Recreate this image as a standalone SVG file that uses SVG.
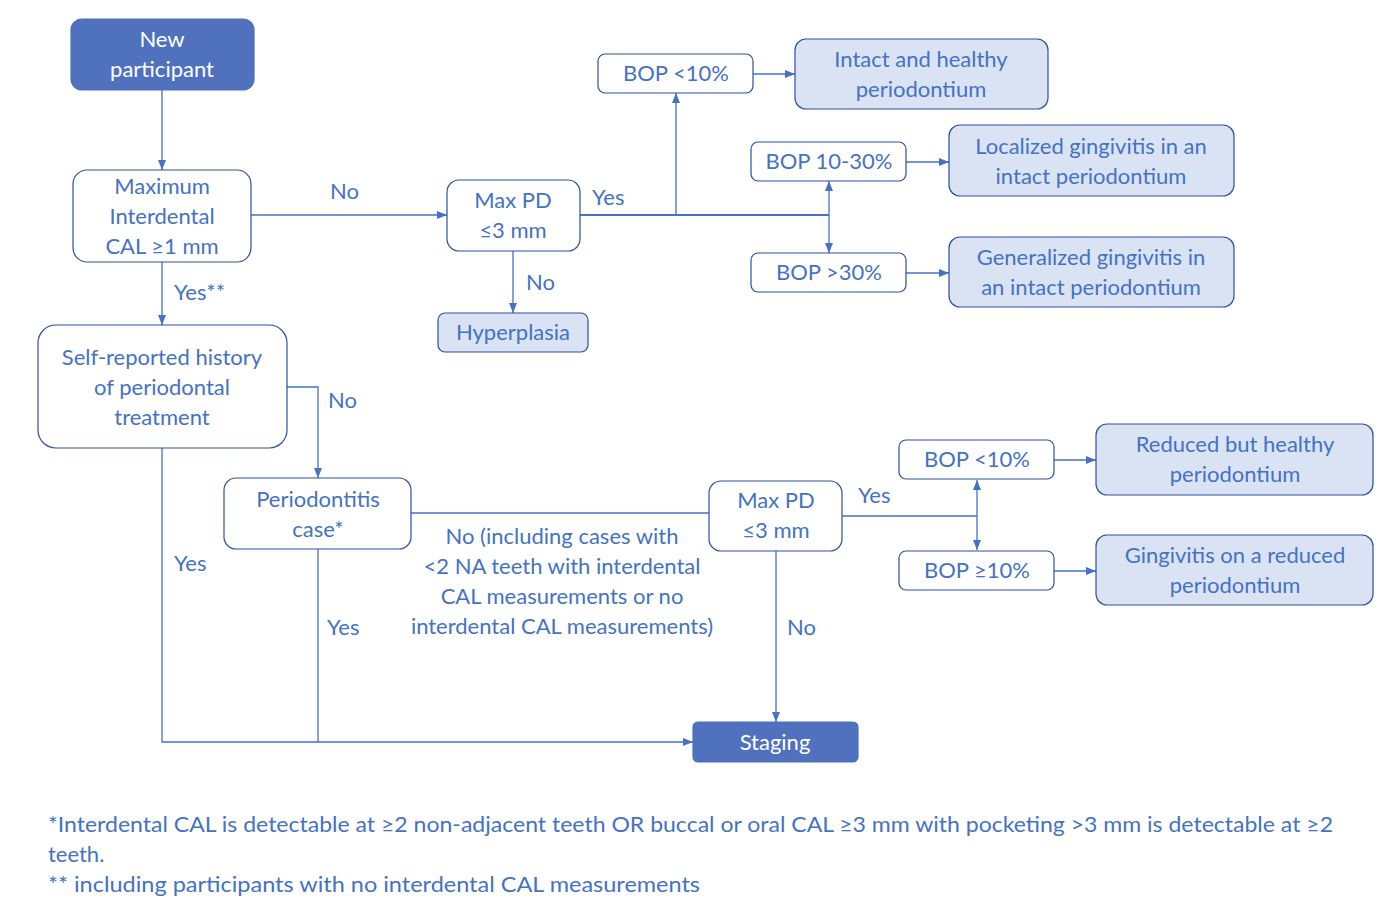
<svg xmlns="http://www.w3.org/2000/svg" width="1384" height="912" viewBox="0 0 1384 912">
<style>
text{font-family:Lato,"Open Sans","Liberation Sans",sans-serif;font-size:22px;fill:#4472C4;text-anchor:middle;dominant-baseline:central;transform:translateY(-1.5px)}
.box{fill:#fff;stroke:#2F4F9F;stroke-width:1.2}
.res{fill:#DAE3F3;stroke:#2F4F9F;stroke-width:1.2}
.dark{fill:#4F71BE;stroke:#4F71BE;stroke-width:1.2}
.wt{fill:#fff}
.ln{fill:none;stroke:#4472C4;stroke-width:1.3}
.thk{stroke-width:2}
.lab{text-anchor:start}
.fn{text-anchor:start;font-size:22px}
</style>
<defs>
<marker id="ah" markerUnits="userSpaceOnUse" markerWidth="10" markerHeight="10" viewBox="0 0 10 10" refX="10" refY="5" orient="auto-start-reverse">
<path d="M0,1 L10,5 L0,9 Z" fill="#4472C4"/>
</marker>
</defs>
<rect width="1384" height="912" fill="#fff"/>
<g id="connectors">
<path class="ln" d="M162,90 V170" marker-end="url(#ah)"/>
<path class="ln" d="M251,215 H447" marker-end="url(#ah)"/>
<path class="ln thk" d="M580,215 H829"/>
<path class="ln" d="M676,215 V93" marker-end="url(#ah)"/>
<path class="ln" d="M829,181 V253" marker-start="url(#ah)" marker-end="url(#ah)"/>
<path class="ln" d="M753,74 H795" marker-end="url(#ah)"/>
<path class="ln" d="M906,162 H949" marker-end="url(#ah)"/>
<path class="ln" d="M906,273 H949" marker-end="url(#ah)"/>
<path class="ln" d="M513,251 V313" marker-end="url(#ah)"/>
<path class="ln" d="M162,262 V325" marker-end="url(#ah)"/>
<path class="ln" d="M287,387 H318 V478" marker-end="url(#ah)"/>
<path class="ln" d="M411,513 H709"/>
<path class="ln" d="M842,516 H977"/>
<path class="ln" d="M977,480 V550" marker-start="url(#ah)" marker-end="url(#ah)"/>
<path class="ln" d="M1054,460 H1096" marker-end="url(#ah)"/>
<path class="ln" d="M1054,571 H1096" marker-end="url(#ah)"/>
<path class="ln" d="M776,551 V722" marker-end="url(#ah)"/>
<path class="ln" d="M162,448 V742 H693" marker-end="url(#ah)"/>
<path class="ln" d="M318,549 V742"/>
<text class="lab" x="330" y="192">No</text>
<text class="lab" x="592" y="198">Yes</text>
<text class="lab" x="526" y="283">No</text>
<text class="lab" x="174" y="293">Yes**</text>
<text class="lab" x="328" y="401">No</text>
<text class="lab" x="858" y="496">Yes</text>
<text class="lab" x="787" y="628">No</text>
<text class="lab" x="174" y="564">Yes</text>
<text class="lab" x="327" y="628">Yes</text>
<text x="562" y="537">No (including cases with</text>
<text x="562" y="567">&lt;2 NA teeth with interdental</text>
<text x="562" y="597">CAL measurements or no</text>
<text x="562" y="627">interdental CAL measurements)</text>
</g>
<g id="new-participant">
<rect class="dark" x="71" y="19" width="183" height="71" rx="11"/>
<text class="wt" x="162" y="40">New</text>
<text class="wt" x="162" y="70">participant</text>
</g>
<g id="max-cal">
<rect class="box" x="73" y="170" width="178" height="92" rx="14"/>
<text x="162" y="187">Maximum</text>
<text x="162" y="217">Interdental</text>
<text x="162" y="247">CAL ≥1 mm</text>
</g>
<g id="maxpd1">
<rect class="box" x="447" y="180" width="133" height="71" rx="12"/>
<text x="513" y="201">Max PD</text>
<text x="513" y="231">≤3 mm</text>
</g>
<g id="bop1">
<rect class="box" x="598" y="54" width="155" height="39" rx="7"/>
<text x="676" y="74">BOP &lt;10%</text>
</g>
<g id="intact">
<rect class="res" x="795" y="39" width="253" height="70" rx="11"/>
<text x="921" y="60">Intact and healthy</text>
<text x="921" y="90">periodontium</text>
</g>
<g id="bop2">
<rect class="box" x="751" y="142" width="155" height="39" rx="7"/>
<text x="829" y="162">BOP 10-30%</text>
</g>
<g id="localized">
<rect class="res" x="949" y="125" width="285" height="71" rx="11"/>
<text x="1091" y="147">Localized gingivitis in an</text>
<text x="1091" y="177">intact periodontium</text>
</g>
<g id="bop3">
<rect class="box" x="751" y="253" width="155" height="39" rx="7"/>
<text x="829" y="273">BOP &gt;30%</text>
</g>
<g id="generalized">
<rect class="res" x="949" y="237" width="285" height="70" rx="11"/>
<text x="1091" y="258">Generalized gingivitis in</text>
<text x="1091" y="288">an intact periodontium</text>
</g>
<g id="hyperplasia">
<rect class="res" x="438" y="313" width="150" height="39" rx="7"/>
<text x="513" y="333">Hyperplasia</text>
</g>
<g id="self-reported">
<rect class="box" x="38" y="325" width="249" height="123" rx="18"/>
<text x="162" y="358">Self-reported history</text>
<text x="162" y="388">of periodontal</text>
<text x="162" y="418">treatment</text>
</g>
<g id="periodontitis">
<rect class="box" x="224" y="478" width="187" height="71" rx="12"/>
<text x="318" y="500">Periodontitis</text>
<text x="318" y="530">case*</text>
</g>
<g id="maxpd2">
<rect class="box" x="709" y="481" width="133" height="70" rx="12"/>
<text x="776" y="501">Max PD</text>
<text x="776" y="531">≤3 mm</text>
</g>
<g id="bop4">
<rect class="box" x="899" y="440" width="155" height="39" rx="7"/>
<text x="977" y="460">BOP &lt;10%</text>
</g>
<g id="bop5">
<rect class="box" x="899" y="551" width="155" height="39" rx="7"/>
<text x="977" y="571">BOP ≥10%</text>
</g>
<g id="reduced">
<rect class="res" x="1096" y="424" width="277" height="71" rx="11"/>
<text x="1235" y="445">Reduced but healthy</text>
<text x="1235" y="475">periodontium</text>
</g>
<g id="gingivitis-reduced">
<rect class="res" x="1096" y="535" width="277" height="70" rx="11"/>
<text x="1235" y="556">Gingivitis on a reduced</text>
<text x="1235" y="586">periodontium</text>
</g>
<g id="staging">
<rect class="dark" x="693" y="722" width="165" height="40" rx="5"/>
<text class="wt" x="775" y="743">Staging</text>
</g>
<g id="footnotes">
<text class="fn" x="48" y="825" textLength="1285" lengthAdjust="spacingAndGlyphs">*Interdental CAL is detectable at ≥2 non-adjacent teeth OR buccal or oral CAL ≥3 mm with pocketing &gt;3 mm is detectable at ≥2</text>
<text class="fn" x="48" y="855">teeth.</text>
<text class="fn" x="48" y="885" textLength="652" lengthAdjust="spacingAndGlyphs">** including participants with no interdental CAL measurements</text>
</g>
</svg>
